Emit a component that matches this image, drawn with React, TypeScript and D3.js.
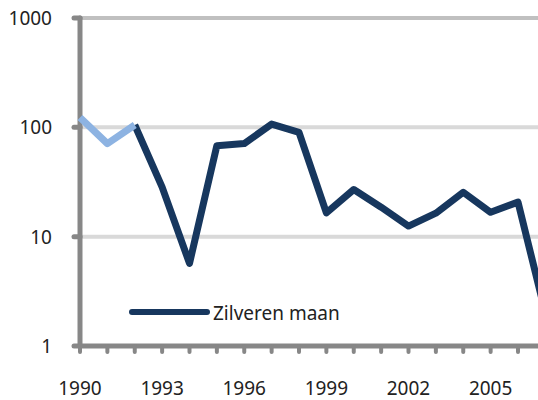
import React from 'react'
import * as d3 from 'd3'

const years = [1990, 1991, 1992, 1993, 1994, 1995, 1996, 1997, 1998, 1999, 2000, 2001, 2002, 2003, 2004, 2005, 2006, 2007]
const zilverenMaan = [123, 71, 105, 28.4, 5.7, 68, 71, 107, 90, 16.5, 27, 18.6, 12.5, 16.4, 25.5, 16.7, 20.7, 2.0]
const yTicks = [1, 10, 100, 1000]
const xLabels = [1990, 1993, 1996, 1999, 2002, 2005]
const legendLabel = 'Zilveren maan'

const width = 538
const height = 400
const font = '"Noto Sans", sans-serif'

export default function App() {
  const x = d3.scaleLinear().domain([1990, 2006]).range([80, 518])
  const y = d3.scaleLog().domain([1, 1000]).range([346, 18])

  const pts: [number, number][] = years.map((yr, i) => [yr, zilverenMaan[i]])
  const line = d3
    .line<[number, number]>()
    .x((d) => x(d[0]))
    .y((d) => y(d[1]))

  const early = pts.filter((d) => d[0] <= 1992)
  const late = pts.filter((d) => d[0] >= 1992)
  const tickYears = d3.range(1990, 2007)

  return (
    <svg
      width={width}
      height={height}
      style={{position: 'absolute', left: 0, top: 0}}
      fontFamily={font}
    >
      <defs>
        <clipPath id="plot">
          <rect x={0} y={0} width={width} height={height} />
        </clipPath>
      </defs>
      {/* gridlines */}
      {yTicks.slice(1).map((t) => (
        <line
          key={t}
          x1={80}
          x2={width}
          y1={y(t)}
          y2={y(t)}
          stroke={t === 1000 ? '#c0c0c0' : '#d9d9d9'}
          strokeWidth={4}
        />
      ))}
      {/* y axis */}
      <line x1={80} x2={80} y1={y(1000)} y2={y(1)} stroke="#878787" strokeWidth={5} strokeLinecap="round" />
      {yTicks.map((t) => (
        <g key={t}>
          <line x1={74} x2={80} y1={y(t)} y2={y(t)} stroke="#878787" strokeWidth={5} strokeLinecap="round" />
          <text x={52} y={y(t) + 7} textAnchor="end" fontSize={19} fill="#222">
            {t}
          </text>
        </g>
      ))}
      {/* x axis */}
      <line x1={80} x2={width} y1={y(1)} y2={y(1)} stroke="#878787" strokeWidth={5} strokeLinecap="round" />
      {tickYears.map((yr) => (
        <line
          key={yr}
          x1={x(yr)}
          x2={x(yr)}
          y1={y(1)}
          y2={y(1) + 6}
          stroke="#878787"
          strokeWidth={4}
          strokeLinecap="round"
        />
      ))}
      {xLabels.map((yr) => (
        <text key={yr} x={x(yr)} y={395} textAnchor="middle" fontSize={19} fill="#222">
          {yr}
        </text>
      ))}
      {/* series */}
      <g clipPath="url(#plot)">
        <path d={line(late) || ''} fill="none" stroke="#17375e" strokeWidth={7} strokeLinejoin="round" />
        <path d={line(early) || ''} fill="none" stroke="#8db3e2" strokeWidth={7} strokeLinejoin="round" />
      </g>
      {/* legend */}
      <line x1={132} x2={207} y1={312} y2={312} stroke="#17375e" strokeWidth={6} strokeLinecap="round" />
      <text x={213} y={320} fontSize={19} fill="#222">
        {legendLabel}
      </text>
    </svg>
  )
}
